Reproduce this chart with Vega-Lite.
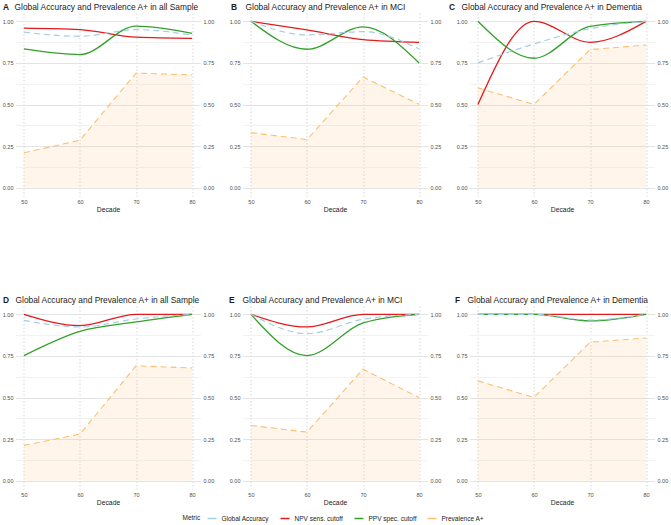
{
  "$schema": "https://vega.github.io/schema/vega-lite/v6.json",
  "padding": {"left": 1.5, "top": 2, "right": 2, "bottom": 2},
  "datasets": {
    "d": [
      {"panel":"A","Metric":"NPV sens. cutoff","Decade":50,"value":0.959},
      {"panel":"A","Metric":"NPV sens. cutoff","Decade":60,"value":0.95},
      {"panel":"A","Metric":"NPV sens. cutoff","Decade":70,"value":0.905},
      {"panel":"A","Metric":"NPV sens. cutoff","Decade":80,"value":0.898},
      {"panel":"A","Metric":"PPV spec. cutoff","Decade":50,"value":0.834},
      {"panel":"A","Metric":"PPV spec. cutoff","Decade":60,"value":0.80},
      {"panel":"A","Metric":"PPV spec. cutoff","Decade":70,"value":0.971},
      {"panel":"A","Metric":"PPV spec. cutoff","Decade":80,"value":0.927},
      {"panel":"A","Metric":"Global Accuracy","Decade":50,"value":0.935},
      {"panel":"A","Metric":"Global Accuracy","Decade":60,"value":0.91},
      {"panel":"A","Metric":"Global Accuracy","Decade":70,"value":0.95},
      {"panel":"A","Metric":"Global Accuracy","Decade":80,"value":0.917},
      {"panel":"A","Metric":"Prevalence A+","Decade":50,"value":0.21},
      {"panel":"A","Metric":"Prevalence A+","Decade":60,"value":0.285},
      {"panel":"A","Metric":"Prevalence A+","Decade":70,"value":0.689},
      {"panel":"A","Metric":"Prevalence A+","Decade":80,"value":0.678},

      {"panel":"B","Metric":"NPV sens. cutoff","Decade":50,"value":1.0},
      {"panel":"B","Metric":"NPV sens. cutoff","Decade":60,"value":0.948},
      {"panel":"B","Metric":"NPV sens. cutoff","Decade":70,"value":0.89},
      {"panel":"B","Metric":"NPV sens. cutoff","Decade":80,"value":0.874},
      {"panel":"B","Metric":"PPV spec. cutoff","Decade":50,"value":1.0},
      {"panel":"B","Metric":"PPV spec. cutoff","Decade":60,"value":0.832},
      {"panel":"B","Metric":"PPV spec. cutoff","Decade":70,"value":0.966},
      {"panel":"B","Metric":"PPV spec. cutoff","Decade":80,"value":0.75},
      {"panel":"B","Metric":"Global Accuracy","Decade":50,"value":1.0},
      {"panel":"B","Metric":"Global Accuracy","Decade":60,"value":0.918},
      {"panel":"B","Metric":"Global Accuracy","Decade":70,"value":0.938},
      {"panel":"B","Metric":"Global Accuracy","Decade":80,"value":0.834},
      {"panel":"B","Metric":"Prevalence A+","Decade":50,"value":0.331},
      {"panel":"B","Metric":"Prevalence A+","Decade":60,"value":0.289},
      {"panel":"B","Metric":"Prevalence A+","Decade":70,"value":0.665},
      {"panel":"B","Metric":"Prevalence A+","Decade":80,"value":0.501},

      {"panel":"C","Metric":"NPV sens. cutoff","Decade":50,"value":0.5},
      {"panel":"C","Metric":"NPV sens. cutoff","Decade":60,"value":1.0},
      {"panel":"C","Metric":"NPV sens. cutoff","Decade":70,"value":0.874},
      {"panel":"C","Metric":"NPV sens. cutoff","Decade":80,"value":1.0},
      {"panel":"C","Metric":"PPV spec. cutoff","Decade":50,"value":1.0},
      {"panel":"C","Metric":"PPV spec. cutoff","Decade":60,"value":0.778},
      {"panel":"C","Metric":"PPV spec. cutoff","Decade":70,"value":0.97},
      {"panel":"C","Metric":"PPV spec. cutoff","Decade":80,"value":1.0},
      {"panel":"C","Metric":"Global Accuracy","Decade":50,"value":0.75},
      {"panel":"C","Metric":"Global Accuracy","Decade":60,"value":0.864},
      {"panel":"C","Metric":"Global Accuracy","Decade":70,"value":0.956},
      {"panel":"C","Metric":"Global Accuracy","Decade":80,"value":1.0},
      {"panel":"C","Metric":"Prevalence A+","Decade":50,"value":0.60},
      {"panel":"C","Metric":"Prevalence A+","Decade":60,"value":0.50},
      {"panel":"C","Metric":"Prevalence A+","Decade":70,"value":0.83},
      {"panel":"C","Metric":"Prevalence A+","Decade":80,"value":0.858},

      {"panel":"D","Metric":"NPV sens. cutoff","Decade":50,"value":1.0},
      {"panel":"D","Metric":"NPV sens. cutoff","Decade":60,"value":0.932},
      {"panel":"D","Metric":"NPV sens. cutoff","Decade":70,"value":1.0},
      {"panel":"D","Metric":"NPV sens. cutoff","Decade":80,"value":1.0},
      {"panel":"D","Metric":"PPV spec. cutoff","Decade":50,"value":0.752},
      {"panel":"D","Metric":"PPV spec. cutoff","Decade":60,"value":0.898},
      {"panel":"D","Metric":"PPV spec. cutoff","Decade":70,"value":0.954},
      {"panel":"D","Metric":"PPV spec. cutoff","Decade":80,"value":1.0},
      {"panel":"D","Metric":"Global Accuracy","Decade":50,"value":0.964},
      {"panel":"D","Metric":"Global Accuracy","Decade":60,"value":0.924},
      {"panel":"D","Metric":"Global Accuracy","Decade":70,"value":0.972},
      {"panel":"D","Metric":"Global Accuracy","Decade":80,"value":1.0},
      {"panel":"D","Metric":"Prevalence A+","Decade":50,"value":0.212},
      {"panel":"D","Metric":"Prevalence A+","Decade":60,"value":0.28},
      {"panel":"D","Metric":"Prevalence A+","Decade":70,"value":0.69},
      {"panel":"D","Metric":"Prevalence A+","Decade":80,"value":0.678},

      {"panel":"E","Metric":"NPV sens. cutoff","Decade":50,"value":1.0},
      {"panel":"E","Metric":"NPV sens. cutoff","Decade":60,"value":0.924},
      {"panel":"E","Metric":"NPV sens. cutoff","Decade":70,"value":1.0},
      {"panel":"E","Metric":"NPV sens. cutoff","Decade":80,"value":1.0},
      {"panel":"E","Metric":"PPV spec. cutoff","Decade":50,"value":1.0},
      {"panel":"E","Metric":"PPV spec. cutoff","Decade":60,"value":0.752},
      {"panel":"E","Metric":"PPV spec. cutoff","Decade":70,"value":0.948},
      {"panel":"E","Metric":"PPV spec. cutoff","Decade":80,"value":1.0},
      {"panel":"E","Metric":"Global Accuracy","Decade":50,"value":1.0},
      {"panel":"E","Metric":"Global Accuracy","Decade":60,"value":0.884},
      {"panel":"E","Metric":"Global Accuracy","Decade":70,"value":0.97},
      {"panel":"E","Metric":"Global Accuracy","Decade":80,"value":1.0},
      {"panel":"E","Metric":"Prevalence A+","Decade":50,"value":0.332},
      {"panel":"E","Metric":"Prevalence A+","Decade":60,"value":0.292},
      {"panel":"E","Metric":"Prevalence A+","Decade":70,"value":0.67},
      {"panel":"E","Metric":"Prevalence A+","Decade":80,"value":0.50},

      {"panel":"F","Metric":"NPV sens. cutoff","Decade":50,"value":1.0},
      {"panel":"F","Metric":"NPV sens. cutoff","Decade":60,"value":1.0},
      {"panel":"F","Metric":"NPV sens. cutoff","Decade":70,"value":1.0},
      {"panel":"F","Metric":"NPV sens. cutoff","Decade":80,"value":1.0},
      {"panel":"F","Metric":"PPV spec. cutoff","Decade":50,"value":1.0},
      {"panel":"F","Metric":"PPV spec. cutoff","Decade":60,"value":1.0},
      {"panel":"F","Metric":"PPV spec. cutoff","Decade":70,"value":0.96},
      {"panel":"F","Metric":"PPV spec. cutoff","Decade":80,"value":1.0},
      {"panel":"F","Metric":"Global Accuracy","Decade":50,"value":1.0},
      {"panel":"F","Metric":"Global Accuracy","Decade":60,"value":1.0},
      {"panel":"F","Metric":"Global Accuracy","Decade":70,"value":0.966},
      {"panel":"F","Metric":"Global Accuracy","Decade":80,"value":1.0},
      {"panel":"F","Metric":"Prevalence A+","Decade":50,"value":0.60},
      {"panel":"F","Metric":"Prevalence A+","Decade":60,"value":0.50},
      {"panel":"F","Metric":"Prevalence A+","Decade":70,"value":0.832},
      {"panel":"F","Metric":"Prevalence A+","Decade":80,"value":0.858}
    ]
  },
  "data": {"name": "d"},
  "bounds": "flush",
  "columns": 3,
  "spacing": {"row": 110, "column": 42},
  "concat": [
    {
      "width": 185, "height": 183,
      "title": {"text": "Global Accuracy and Prevalence A+ in all Sample", "dx": -1},
      "transform": [{"filter": "datum.panel === 'A'"}],
      "layer": [
        {"mark": {"type": "area", "color": "#FDBF6F", "opacity": 0.15},
         "transform": [{"filter": "datum.Metric === 'Prevalence A+'"}],
         "encoding": {
           "x": {"field": "Decade", "type": "quantitative", "scale": {"domain": [48.5, 81.5], "nice": false, "zero": false}, "axis": {"values": [50, 60, 70, 80], "format": "d", "title": "Decade", "grid": true, "gridDash": [1.5, 2], "gridColor": "#c4c4c4", "gridWidth": 0.7, "labelPadding": 3, "titlePadding": 2}},
           "y": {"field": "value", "type": "quantitative", "scale": {"domain": [-0.05, 1.05], "nice": false, "zero": false}, "axis": {"orient": "right", "values": [0, 0.25, 0.5, 0.75, 1], "format": ".2f", "grid": false, "title": null}},
           "y2": {"datum": 0}}},
        {"mark": {"type": "line", "strokeDash": [6, 4], "strokeWidth": 1.1},
         "transform": [{"filter": "datum.Metric === 'Prevalence A+'"}],
         "encoding": {
           "x": {"field": "Decade", "type": "quantitative", "scale": {"domain": [48.5, 81.5], "nice": false, "zero": false}, "axis": {"values": [50, 60, 70, 80], "format": "d", "title": "Decade", "grid": true, "gridDash": [1.5, 2], "gridColor": "#c4c4c4", "gridWidth": 0.7, "labelPadding": 3, "titlePadding": 2}},
           "y": {"field": "value", "type": "quantitative", "scale": {"domain": [-0.05, 1.05], "nice": false, "zero": false}, "axis": {"orient": "left", "values": [0, 0.125, 0.25, 0.375, 0.5, 0.625, 0.75, 0.875, 1], "labelExpr": "(datum.value*4)%1 === 0 ? format(datum.value, '.2f') : ''", "grid": true, "gridColor": {"condition": {"test": "(datum.value*4)%1 === 0", "value": "#e4e4e4"}, "value": "#f2f2f2"}, "title": "A", "titleAngle": 0, "titleFontWeight": "bold", "titleFontSize": 8.4, "titleX": -13, "titleY": -4, "titleAlign": "left", "titleBaseline": "alphabetic"}},
           "color": {"field": "Metric", "type": "nominal", "title": "Metric", "scale": {"domain": ["Global Accuracy", "NPV sens. cutoff", "PPV spec. cutoff", "Prevalence A+"], "range": ["#A6CEE3", "#E31A1C", "#33A02C", "#FDBF6F"]}, "legend": {"encode": {"symbols": {"update": {"strokeDash": {"value": [1, 0]}}}}}}}},
        {"mark": {"type": "line", "interpolate": "monotone", "strokeWidth": 1.3},
         "transform": [{"filter": "datum.Metric === 'NPV sens. cutoff' || datum.Metric === 'PPV spec. cutoff'"}],
         "encoding": {
           "x": {"field": "Decade", "type": "quantitative", "scale": {"domain": [48.5, 81.5], "nice": false, "zero": false}, "axis": {"values": [50, 60, 70, 80], "format": "d", "title": "Decade", "grid": true, "gridDash": [1.5, 2], "gridColor": "#c4c4c4", "gridWidth": 0.7, "labelPadding": 3, "titlePadding": 2}},
           "y": {"field": "value", "type": "quantitative", "scale": {"domain": [-0.05, 1.05], "nice": false, "zero": false}, "axis": null},
           "color": {"field": "Metric", "type": "nominal", "title": "Metric", "scale": {"domain": ["Global Accuracy", "NPV sens. cutoff", "PPV spec. cutoff", "Prevalence A+"], "range": ["#A6CEE3", "#E31A1C", "#33A02C", "#FDBF6F"]}, "legend": {"encode": {"symbols": {"update": {"strokeDash": {"value": [1, 0]}}}}}}}},
        {"mark": {"type": "line", "interpolate": "monotone", "strokeDash": [6, 4], "strokeWidth": 1.2},
         "transform": [{"filter": "datum.Metric === 'Global Accuracy'"}],
         "encoding": {
           "x": {"field": "Decade", "type": "quantitative", "scale": {"domain": [48.5, 81.5], "nice": false, "zero": false}, "axis": {"values": [50, 60, 70, 80], "format": "d", "title": "Decade", "grid": true, "gridDash": [1.5, 2], "gridColor": "#c4c4c4", "gridWidth": 0.7, "labelPadding": 3, "titlePadding": 2}},
           "y": {"field": "value", "type": "quantitative", "scale": {"domain": [-0.05, 1.05], "nice": false, "zero": false}, "axis": null},
           "color": {"field": "Metric", "type": "nominal", "title": "Metric", "scale": {"domain": ["Global Accuracy", "NPV sens. cutoff", "PPV spec. cutoff", "Prevalence A+"], "range": ["#A6CEE3", "#E31A1C", "#33A02C", "#FDBF6F"]}, "legend": {"encode": {"symbols": {"update": {"strokeDash": {"value": [1, 0]}}}}}}}}
      ],
      "resolve": {"scale": {"y": "independent"}}
    },
    {
      "width": 185, "height": 183,
      "title": {"text": "Global Accuracy and Prevalence A+ in MCI", "dx": 3},
      "transform": [{"filter": "datum.panel === 'B'"}],
      "layer": [
        {"mark": {"type": "area", "color": "#FDBF6F", "opacity": 0.15},
         "transform": [{"filter": "datum.Metric === 'Prevalence A+'"}],
         "encoding": {
           "x": {"field": "Decade", "type": "quantitative", "scale": {"domain": [48.5, 81.5], "nice": false, "zero": false}, "axis": {"values": [50, 60, 70, 80], "format": "d", "title": "Decade", "grid": true, "gridDash": [1.5, 2], "gridColor": "#c4c4c4", "gridWidth": 0.7, "labelPadding": 3, "titlePadding": 2}},
           "y": {"field": "value", "type": "quantitative", "scale": {"domain": [-0.05, 1.05], "nice": false, "zero": false}, "axis": {"orient": "right", "values": [0, 0.25, 0.5, 0.75, 1], "format": ".2f", "grid": false, "title": null}},
           "y2": {"datum": 0}}},
        {"mark": {"type": "line", "strokeDash": [6, 4], "strokeWidth": 1.1},
         "transform": [{"filter": "datum.Metric === 'Prevalence A+'"}],
         "encoding": {
           "x": {"field": "Decade", "type": "quantitative", "scale": {"domain": [48.5, 81.5], "nice": false, "zero": false}, "axis": {"values": [50, 60, 70, 80], "format": "d", "title": "Decade", "grid": true, "gridDash": [1.5, 2], "gridColor": "#c4c4c4", "gridWidth": 0.7, "labelPadding": 3, "titlePadding": 2}},
           "y": {"field": "value", "type": "quantitative", "scale": {"domain": [-0.05, 1.05], "nice": false, "zero": false}, "axis": {"orient": "left", "values": [0, 0.125, 0.25, 0.375, 0.5, 0.625, 0.75, 0.875, 1], "labelExpr": "(datum.value*4)%1 === 0 ? format(datum.value, '.2f') : ''", "grid": true, "gridColor": {"condition": {"test": "(datum.value*4)%1 === 0", "value": "#e4e4e4"}, "value": "#f2f2f2"}, "title": "B", "titleAngle": 0, "titleFontWeight": "bold", "titleFontSize": 8.4, "titleX": -12, "titleY": -4, "titleAlign": "left", "titleBaseline": "alphabetic"}},
           "color": {"field": "Metric", "type": "nominal", "title": "Metric", "scale": {"domain": ["Global Accuracy", "NPV sens. cutoff", "PPV spec. cutoff", "Prevalence A+"], "range": ["#A6CEE3", "#E31A1C", "#33A02C", "#FDBF6F"]}, "legend": {"encode": {"symbols": {"update": {"strokeDash": {"value": [1, 0]}}}}}}}},
        {"mark": {"type": "line", "interpolate": "monotone", "strokeWidth": 1.3},
         "transform": [{"filter": "datum.Metric === 'NPV sens. cutoff' || datum.Metric === 'PPV spec. cutoff'"}],
         "encoding": {
           "x": {"field": "Decade", "type": "quantitative", "scale": {"domain": [48.5, 81.5], "nice": false, "zero": false}, "axis": {"values": [50, 60, 70, 80], "format": "d", "title": "Decade", "grid": true, "gridDash": [1.5, 2], "gridColor": "#c4c4c4", "gridWidth": 0.7, "labelPadding": 3, "titlePadding": 2}},
           "y": {"field": "value", "type": "quantitative", "scale": {"domain": [-0.05, 1.05], "nice": false, "zero": false}, "axis": null},
           "color": {"field": "Metric", "type": "nominal", "title": "Metric", "scale": {"domain": ["Global Accuracy", "NPV sens. cutoff", "PPV spec. cutoff", "Prevalence A+"], "range": ["#A6CEE3", "#E31A1C", "#33A02C", "#FDBF6F"]}, "legend": {"encode": {"symbols": {"update": {"strokeDash": {"value": [1, 0]}}}}}}}},
        {"mark": {"type": "line", "interpolate": "monotone", "strokeDash": [6, 4], "strokeWidth": 1.2},
         "transform": [{"filter": "datum.Metric === 'Global Accuracy'"}],
         "encoding": {
           "x": {"field": "Decade", "type": "quantitative", "scale": {"domain": [48.5, 81.5], "nice": false, "zero": false}, "axis": {"values": [50, 60, 70, 80], "format": "d", "title": "Decade", "grid": true, "gridDash": [1.5, 2], "gridColor": "#c4c4c4", "gridWidth": 0.7, "labelPadding": 3, "titlePadding": 2}},
           "y": {"field": "value", "type": "quantitative", "scale": {"domain": [-0.05, 1.05], "nice": false, "zero": false}, "axis": null},
           "color": {"field": "Metric", "type": "nominal", "title": "Metric", "scale": {"domain": ["Global Accuracy", "NPV sens. cutoff", "PPV spec. cutoff", "Prevalence A+"], "range": ["#A6CEE3", "#E31A1C", "#33A02C", "#FDBF6F"]}, "legend": {"encode": {"symbols": {"update": {"strokeDash": {"value": [1, 0]}}}}}}}}
      ],
      "resolve": {"scale": {"y": "independent"}}
    },
    {
      "width": 185, "height": 183,
      "title": {"text": "Global Accuracy and Prevalence A+ in Dementia", "dx": -8},
      "transform": [{"filter": "datum.panel === 'C'"}],
      "layer": [
        {"mark": {"type": "area", "color": "#FDBF6F", "opacity": 0.15},
         "transform": [{"filter": "datum.Metric === 'Prevalence A+'"}],
         "encoding": {
           "x": {"field": "Decade", "type": "quantitative", "scale": {"domain": [48.5, 81.5], "nice": false, "zero": false}, "axis": {"values": [50, 60, 70, 80], "format": "d", "title": "Decade", "grid": true, "gridDash": [1.5, 2], "gridColor": "#c4c4c4", "gridWidth": 0.7, "labelPadding": 3, "titlePadding": 2}},
           "y": {"field": "value", "type": "quantitative", "scale": {"domain": [-0.05, 1.05], "nice": false, "zero": false}, "axis": {"orient": "right", "values": [0, 0.25, 0.5, 0.75, 1], "format": ".2f", "grid": false, "title": null}},
           "y2": {"datum": 0}}},
        {"mark": {"type": "line", "strokeDash": [6, 4], "strokeWidth": 1.1},
         "transform": [{"filter": "datum.Metric === 'Prevalence A+'"}],
         "encoding": {
           "x": {"field": "Decade", "type": "quantitative", "scale": {"domain": [48.5, 81.5], "nice": false, "zero": false}, "axis": {"values": [50, 60, 70, 80], "format": "d", "title": "Decade", "grid": true, "gridDash": [1.5, 2], "gridColor": "#c4c4c4", "gridWidth": 0.7, "labelPadding": 3, "titlePadding": 2}},
           "y": {"field": "value", "type": "quantitative", "scale": {"domain": [-0.05, 1.05], "nice": false, "zero": false}, "axis": {"orient": "left", "values": [0, 0.125, 0.25, 0.375, 0.5, 0.625, 0.75, 0.875, 1], "labelExpr": "(datum.value*4)%1 === 0 ? format(datum.value, '.2f') : ''", "grid": true, "gridColor": {"condition": {"test": "(datum.value*4)%1 === 0", "value": "#e4e4e4"}, "value": "#f2f2f2"}, "title": "C", "titleAngle": 0, "titleFontWeight": "bold", "titleFontSize": 8.4, "titleX": -21, "titleY": -4, "titleAlign": "left", "titleBaseline": "alphabetic"}},
           "color": {"field": "Metric", "type": "nominal", "title": "Metric", "scale": {"domain": ["Global Accuracy", "NPV sens. cutoff", "PPV spec. cutoff", "Prevalence A+"], "range": ["#A6CEE3", "#E31A1C", "#33A02C", "#FDBF6F"]}, "legend": {"encode": {"symbols": {"update": {"strokeDash": {"value": [1, 0]}}}}}}}},
        {"mark": {"type": "line", "interpolate": "monotone", "strokeWidth": 1.3},
         "transform": [{"filter": "datum.Metric === 'NPV sens. cutoff' || datum.Metric === 'PPV spec. cutoff'"}],
         "encoding": {
           "x": {"field": "Decade", "type": "quantitative", "scale": {"domain": [48.5, 81.5], "nice": false, "zero": false}, "axis": {"values": [50, 60, 70, 80], "format": "d", "title": "Decade", "grid": true, "gridDash": [1.5, 2], "gridColor": "#c4c4c4", "gridWidth": 0.7, "labelPadding": 3, "titlePadding": 2}},
           "y": {"field": "value", "type": "quantitative", "scale": {"domain": [-0.05, 1.05], "nice": false, "zero": false}, "axis": null},
           "color": {"field": "Metric", "type": "nominal", "title": "Metric", "scale": {"domain": ["Global Accuracy", "NPV sens. cutoff", "PPV spec. cutoff", "Prevalence A+"], "range": ["#A6CEE3", "#E31A1C", "#33A02C", "#FDBF6F"]}, "legend": {"encode": {"symbols": {"update": {"strokeDash": {"value": [1, 0]}}}}}}}},
        {"mark": {"type": "line", "interpolate": "monotone", "strokeDash": [6, 4], "strokeWidth": 1.2},
         "transform": [{"filter": "datum.Metric === 'Global Accuracy'"}],
         "encoding": {
           "x": {"field": "Decade", "type": "quantitative", "scale": {"domain": [48.5, 81.5], "nice": false, "zero": false}, "axis": {"values": [50, 60, 70, 80], "format": "d", "title": "Decade", "grid": true, "gridDash": [1.5, 2], "gridColor": "#c4c4c4", "gridWidth": 0.7, "labelPadding": 3, "titlePadding": 2}},
           "y": {"field": "value", "type": "quantitative", "scale": {"domain": [-0.05, 1.05], "nice": false, "zero": false}, "axis": null},
           "color": {"field": "Metric", "type": "nominal", "title": "Metric", "scale": {"domain": ["Global Accuracy", "NPV sens. cutoff", "PPV spec. cutoff", "Prevalence A+"], "range": ["#A6CEE3", "#E31A1C", "#33A02C", "#FDBF6F"]}, "legend": {"encode": {"symbols": {"update": {"strokeDash": {"value": [1, 0]}}}}}}}}
      ],
      "resolve": {"scale": {"y": "independent"}}
    },
    {
      "width": 185, "height": 183,
      "title": {"text": "Global Accuracy and Prevalence A+ in all Sample", "dx": 0},
      "transform": [{"filter": "datum.panel === 'D'"}],
      "layer": [
        {"mark": {"type": "area", "color": "#FDBF6F", "opacity": 0.15},
         "transform": [{"filter": "datum.Metric === 'Prevalence A+'"}],
         "encoding": {
           "x": {"field": "Decade", "type": "quantitative", "scale": {"domain": [48.5, 81.5], "nice": false, "zero": false}, "axis": {"values": [50, 60, 70, 80], "format": "d", "title": "Decade", "grid": true, "gridDash": [1.5, 2], "gridColor": "#c4c4c4", "gridWidth": 0.7, "labelPadding": 3, "titlePadding": 2}},
           "y": {"field": "value", "type": "quantitative", "scale": {"domain": [-0.05, 1.05], "nice": false, "zero": false}, "axis": {"orient": "right", "values": [0, 0.25, 0.5, 0.75, 1], "format": ".2f", "grid": false, "title": null}},
           "y2": {"datum": 0}}},
        {"mark": {"type": "line", "strokeDash": [6, 4], "strokeWidth": 1.1},
         "transform": [{"filter": "datum.Metric === 'Prevalence A+'"}],
         "encoding": {
           "x": {"field": "Decade", "type": "quantitative", "scale": {"domain": [48.5, 81.5], "nice": false, "zero": false}, "axis": {"values": [50, 60, 70, 80], "format": "d", "title": "Decade", "grid": true, "gridDash": [1.5, 2], "gridColor": "#c4c4c4", "gridWidth": 0.7, "labelPadding": 3, "titlePadding": 2}},
           "y": {"field": "value", "type": "quantitative", "scale": {"domain": [-0.05, 1.05], "nice": false, "zero": false}, "axis": {"orient": "left", "values": [0, 0.125, 0.25, 0.375, 0.5, 0.625, 0.75, 0.875, 1], "labelExpr": "(datum.value*4)%1 === 0 ? format(datum.value, '.2f') : ''", "grid": true, "gridColor": {"condition": {"test": "(datum.value*4)%1 === 0", "value": "#e4e4e4"}, "value": "#f2f2f2"}, "title": "D", "titleAngle": 0, "titleFontWeight": "bold", "titleFontSize": 8.4, "titleX": -13, "titleY": -4, "titleAlign": "left", "titleBaseline": "alphabetic"}},
           "color": {"field": "Metric", "type": "nominal", "title": "Metric", "scale": {"domain": ["Global Accuracy", "NPV sens. cutoff", "PPV spec. cutoff", "Prevalence A+"], "range": ["#A6CEE3", "#E31A1C", "#33A02C", "#FDBF6F"]}, "legend": {"encode": {"symbols": {"update": {"strokeDash": {"value": [1, 0]}}}}}}}},
        {"mark": {"type": "line", "interpolate": "monotone", "strokeWidth": 1.3},
         "transform": [{"filter": "datum.Metric === 'NPV sens. cutoff' || datum.Metric === 'PPV spec. cutoff'"}],
         "encoding": {
           "x": {"field": "Decade", "type": "quantitative", "scale": {"domain": [48.5, 81.5], "nice": false, "zero": false}, "axis": {"values": [50, 60, 70, 80], "format": "d", "title": "Decade", "grid": true, "gridDash": [1.5, 2], "gridColor": "#c4c4c4", "gridWidth": 0.7, "labelPadding": 3, "titlePadding": 2}},
           "y": {"field": "value", "type": "quantitative", "scale": {"domain": [-0.05, 1.05], "nice": false, "zero": false}, "axis": null},
           "color": {"field": "Metric", "type": "nominal", "title": "Metric", "scale": {"domain": ["Global Accuracy", "NPV sens. cutoff", "PPV spec. cutoff", "Prevalence A+"], "range": ["#A6CEE3", "#E31A1C", "#33A02C", "#FDBF6F"]}, "legend": {"encode": {"symbols": {"update": {"strokeDash": {"value": [1, 0]}}}}}}}},
        {"mark": {"type": "line", "interpolate": "monotone", "strokeDash": [6, 4], "strokeWidth": 1.2},
         "transform": [{"filter": "datum.Metric === 'Global Accuracy'"}],
         "encoding": {
           "x": {"field": "Decade", "type": "quantitative", "scale": {"domain": [48.5, 81.5], "nice": false, "zero": false}, "axis": {"values": [50, 60, 70, 80], "format": "d", "title": "Decade", "grid": true, "gridDash": [1.5, 2], "gridColor": "#c4c4c4", "gridWidth": 0.7, "labelPadding": 3, "titlePadding": 2}},
           "y": {"field": "value", "type": "quantitative", "scale": {"domain": [-0.05, 1.05], "nice": false, "zero": false}, "axis": null},
           "color": {"field": "Metric", "type": "nominal", "title": "Metric", "scale": {"domain": ["Global Accuracy", "NPV sens. cutoff", "PPV spec. cutoff", "Prevalence A+"], "range": ["#A6CEE3", "#E31A1C", "#33A02C", "#FDBF6F"]}, "legend": {"encode": {"symbols": {"update": {"strokeDash": {"value": [1, 0]}}}}}}}}
      ],
      "resolve": {"scale": {"y": "independent"}}
    },
    {
      "width": 185, "height": 183,
      "title": {"text": "Global Accuracy and Prevalence A+ in MCI", "dx": 0},
      "transform": [{"filter": "datum.panel === 'E'"}],
      "layer": [
        {"mark": {"type": "area", "color": "#FDBF6F", "opacity": 0.15},
         "transform": [{"filter": "datum.Metric === 'Prevalence A+'"}],
         "encoding": {
           "x": {"field": "Decade", "type": "quantitative", "scale": {"domain": [48.5, 81.5], "nice": false, "zero": false}, "axis": {"values": [50, 60, 70, 80], "format": "d", "title": "Decade", "grid": true, "gridDash": [1.5, 2], "gridColor": "#c4c4c4", "gridWidth": 0.7, "labelPadding": 3, "titlePadding": 2}},
           "y": {"field": "value", "type": "quantitative", "scale": {"domain": [-0.05, 1.05], "nice": false, "zero": false}, "axis": {"orient": "right", "values": [0, 0.25, 0.5, 0.75, 1], "format": ".2f", "grid": false, "title": null}},
           "y2": {"datum": 0}}},
        {"mark": {"type": "line", "strokeDash": [6, 4], "strokeWidth": 1.1},
         "transform": [{"filter": "datum.Metric === 'Prevalence A+'"}],
         "encoding": {
           "x": {"field": "Decade", "type": "quantitative", "scale": {"domain": [48.5, 81.5], "nice": false, "zero": false}, "axis": {"values": [50, 60, 70, 80], "format": "d", "title": "Decade", "grid": true, "gridDash": [1.5, 2], "gridColor": "#c4c4c4", "gridWidth": 0.7, "labelPadding": 3, "titlePadding": 2}},
           "y": {"field": "value", "type": "quantitative", "scale": {"domain": [-0.05, 1.05], "nice": false, "zero": false}, "axis": {"orient": "left", "values": [0, 0.125, 0.25, 0.375, 0.5, 0.625, 0.75, 0.875, 1], "labelExpr": "(datum.value*4)%1 === 0 ? format(datum.value, '.2f') : ''", "grid": true, "gridColor": {"condition": {"test": "(datum.value*4)%1 === 0", "value": "#e4e4e4"}, "value": "#f2f2f2"}, "title": "E", "titleAngle": 0, "titleFontWeight": "bold", "titleFontSize": 8.4, "titleX": -14, "titleY": -4, "titleAlign": "left", "titleBaseline": "alphabetic"}},
           "color": {"field": "Metric", "type": "nominal", "title": "Metric", "scale": {"domain": ["Global Accuracy", "NPV sens. cutoff", "PPV spec. cutoff", "Prevalence A+"], "range": ["#A6CEE3", "#E31A1C", "#33A02C", "#FDBF6F"]}, "legend": {"encode": {"symbols": {"update": {"strokeDash": {"value": [1, 0]}}}}}}}},
        {"mark": {"type": "line", "interpolate": "monotone", "strokeWidth": 1.3},
         "transform": [{"filter": "datum.Metric === 'NPV sens. cutoff' || datum.Metric === 'PPV spec. cutoff'"}],
         "encoding": {
           "x": {"field": "Decade", "type": "quantitative", "scale": {"domain": [48.5, 81.5], "nice": false, "zero": false}, "axis": {"values": [50, 60, 70, 80], "format": "d", "title": "Decade", "grid": true, "gridDash": [1.5, 2], "gridColor": "#c4c4c4", "gridWidth": 0.7, "labelPadding": 3, "titlePadding": 2}},
           "y": {"field": "value", "type": "quantitative", "scale": {"domain": [-0.05, 1.05], "nice": false, "zero": false}, "axis": null},
           "color": {"field": "Metric", "type": "nominal", "title": "Metric", "scale": {"domain": ["Global Accuracy", "NPV sens. cutoff", "PPV spec. cutoff", "Prevalence A+"], "range": ["#A6CEE3", "#E31A1C", "#33A02C", "#FDBF6F"]}, "legend": {"encode": {"symbols": {"update": {"strokeDash": {"value": [1, 0]}}}}}}}},
        {"mark": {"type": "line", "interpolate": "monotone", "strokeDash": [6, 4], "strokeWidth": 1.2},
         "transform": [{"filter": "datum.Metric === 'Global Accuracy'"}],
         "encoding": {
           "x": {"field": "Decade", "type": "quantitative", "scale": {"domain": [48.5, 81.5], "nice": false, "zero": false}, "axis": {"values": [50, 60, 70, 80], "format": "d", "title": "Decade", "grid": true, "gridDash": [1.5, 2], "gridColor": "#c4c4c4", "gridWidth": 0.7, "labelPadding": 3, "titlePadding": 2}},
           "y": {"field": "value", "type": "quantitative", "scale": {"domain": [-0.05, 1.05], "nice": false, "zero": false}, "axis": null},
           "color": {"field": "Metric", "type": "nominal", "title": "Metric", "scale": {"domain": ["Global Accuracy", "NPV sens. cutoff", "PPV spec. cutoff", "Prevalence A+"], "range": ["#A6CEE3", "#E31A1C", "#33A02C", "#FDBF6F"]}, "legend": {"encode": {"symbols": {"update": {"strokeDash": {"value": [1, 0]}}}}}}}}
      ],
      "resolve": {"scale": {"y": "independent"}}
    },
    {
      "width": 185, "height": 183,
      "title": {"text": "Global Accuracy and Prevalence A+ in Dementia", "dx": -2},
      "transform": [{"filter": "datum.panel === 'F'"}],
      "layer": [
        {"mark": {"type": "area", "color": "#FDBF6F", "opacity": 0.15},
         "transform": [{"filter": "datum.Metric === 'Prevalence A+'"}],
         "encoding": {
           "x": {"field": "Decade", "type": "quantitative", "scale": {"domain": [48.5, 81.5], "nice": false, "zero": false}, "axis": {"values": [50, 60, 70, 80], "format": "d", "title": "Decade", "grid": true, "gridDash": [1.5, 2], "gridColor": "#c4c4c4", "gridWidth": 0.7, "labelPadding": 3, "titlePadding": 2}},
           "y": {"field": "value", "type": "quantitative", "scale": {"domain": [-0.05, 1.05], "nice": false, "zero": false}, "axis": {"orient": "right", "values": [0, 0.25, 0.5, 0.75, 1], "format": ".2f", "grid": false, "title": null}},
           "y2": {"datum": 0}}},
        {"mark": {"type": "line", "strokeDash": [6, 4], "strokeWidth": 1.1},
         "transform": [{"filter": "datum.Metric === 'Prevalence A+'"}],
         "encoding": {
           "x": {"field": "Decade", "type": "quantitative", "scale": {"domain": [48.5, 81.5], "nice": false, "zero": false}, "axis": {"values": [50, 60, 70, 80], "format": "d", "title": "Decade", "grid": true, "gridDash": [1.5, 2], "gridColor": "#c4c4c4", "gridWidth": 0.7, "labelPadding": 3, "titlePadding": 2}},
           "y": {"field": "value", "type": "quantitative", "scale": {"domain": [-0.05, 1.05], "nice": false, "zero": false}, "axis": {"orient": "left", "values": [0, 0.125, 0.25, 0.375, 0.5, 0.625, 0.75, 0.875, 1], "labelExpr": "(datum.value*4)%1 === 0 ? format(datum.value, '.2f') : ''", "grid": true, "gridColor": {"condition": {"test": "(datum.value*4)%1 === 0", "value": "#e4e4e4"}, "value": "#f2f2f2"}, "title": "F", "titleAngle": 0, "titleFontWeight": "bold", "titleFontSize": 8.4, "titleX": -15, "titleY": -4, "titleAlign": "left", "titleBaseline": "alphabetic"}},
           "color": {"field": "Metric", "type": "nominal", "title": "Metric", "scale": {"domain": ["Global Accuracy", "NPV sens. cutoff", "PPV spec. cutoff", "Prevalence A+"], "range": ["#A6CEE3", "#E31A1C", "#33A02C", "#FDBF6F"]}, "legend": {"encode": {"symbols": {"update": {"strokeDash": {"value": [1, 0]}}}}}}}},
        {"mark": {"type": "line", "interpolate": "monotone", "strokeWidth": 1.3},
         "transform": [{"filter": "datum.Metric === 'NPV sens. cutoff' || datum.Metric === 'PPV spec. cutoff'"}],
         "encoding": {
           "x": {"field": "Decade", "type": "quantitative", "scale": {"domain": [48.5, 81.5], "nice": false, "zero": false}, "axis": {"values": [50, 60, 70, 80], "format": "d", "title": "Decade", "grid": true, "gridDash": [1.5, 2], "gridColor": "#c4c4c4", "gridWidth": 0.7, "labelPadding": 3, "titlePadding": 2}},
           "y": {"field": "value", "type": "quantitative", "scale": {"domain": [-0.05, 1.05], "nice": false, "zero": false}, "axis": null},
           "color": {"field": "Metric", "type": "nominal", "title": "Metric", "scale": {"domain": ["Global Accuracy", "NPV sens. cutoff", "PPV spec. cutoff", "Prevalence A+"], "range": ["#A6CEE3", "#E31A1C", "#33A02C", "#FDBF6F"]}, "legend": {"encode": {"symbols": {"update": {"strokeDash": {"value": [1, 0]}}}}}}}},
        {"mark": {"type": "line", "interpolate": "monotone", "strokeDash": [6, 4], "strokeWidth": 1.2},
         "transform": [{"filter": "datum.Metric === 'Global Accuracy'"}],
         "encoding": {
           "x": {"field": "Decade", "type": "quantitative", "scale": {"domain": [48.5, 81.5], "nice": false, "zero": false}, "axis": {"values": [50, 60, 70, 80], "format": "d", "title": "Decade", "grid": true, "gridDash": [1.5, 2], "gridColor": "#c4c4c4", "gridWidth": 0.7, "labelPadding": 3, "titlePadding": 2}},
           "y": {"field": "value", "type": "quantitative", "scale": {"domain": [-0.05, 1.05], "nice": false, "zero": false}, "axis": null},
           "color": {"field": "Metric", "type": "nominal", "title": "Metric", "scale": {"domain": ["Global Accuracy", "NPV sens. cutoff", "PPV spec. cutoff", "Prevalence A+"], "range": ["#A6CEE3", "#E31A1C", "#33A02C", "#FDBF6F"]}, "legend": {"encode": {"symbols": {"update": {"strokeDash": {"value": [1, 0]}}}}}}}}
      ],
      "resolve": {"scale": {"y": "independent"}}
    }
  ],
  "config": {
    "font": "Liberation Sans",
    "view": {"stroke": null},
    "axis": {"labelFontSize": 5.5, "labelColor": "#4d4d4d", "titleFontSize": 6.8, "titleFontWeight": "normal", "titleColor": "#1a1a1a", "ticks": false, "domain": false},
    "axisY": {"labelPadding": 2.5},
    "title": {"fontSize": 8.4, "fontWeight": "normal", "anchor": "start", "frame": "group", "color": "#1a1a1a", "baseline": "alphabetic", "offset": -9.5},
    "legend": {"orient": "none", "legendX": 167, "legendY": 500, "direction": "horizontal", "titleOrient": "left", "titleFontSize": 6.5, "titleFontWeight": "normal", "titleColor": "#1a1a1a", "labelFontSize": 6.5, "labelColor": "#1a1a1a", "symbolType": "stroke", "symbolStrokeWidth": 1.5, "symbolSize": 80, "columnPadding": 8, "titlePadding": 6}
  }
}
